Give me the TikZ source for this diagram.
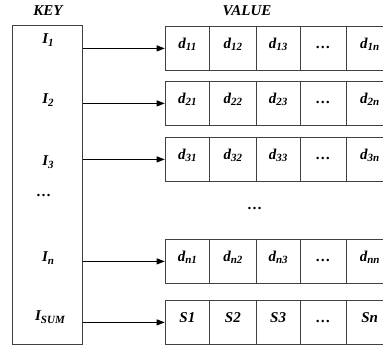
\documentclass[tikz,border=0pt]{standalone}
\usepackage{fontspec}
\setmainfont{Liberation Serif}
\usetikzlibrary{arrows.meta}
\newcommand{\sbx}[1]{\raisebox{-0.35ex}{\fontsize{11}{11}\selectfont #1}}
\newcommand{\kvrow}[7]{%
  \node[cell=44.6pt] (#1a) at (164.7,#2) {#3};
  \node[cell=46.4pt] (#1b) at (209.3,#2) {#4};
  \node[cell=44pt]   (#1c) at (255.7,#2) {#5};
  \node[cell=46.6pt] (#1d) at (299.7,#2) {#6};
  \node[cell=46pt]   (#1e) at (346.3,#2) {#7};
  \draw[arr] (key.east |- #1a.west) -- (#1a.west);
}
\begin{document}
\begin{tikzpicture}[x=1pt,y=-1pt,
  txt/.style={font=\fontsize{15}{17}\selectfont\bfseries\itshape, inner sep=0pt},
  cell/.style={draw=black!75, line width=0.8pt, txt, minimum width=#1,
    text height=22pt, text depth=22pt, anchor=north west, inner sep=0pt},
  arr/.style={draw=black, line width=0.8pt, -{Triangle[length=8pt,width=6pt]}}]
\useasboundingbox (0,0) rectangle (383,352);
\clip (0,0) rectangle (383,352);
\node[txt] (keyt) at (48,11) {KEY};
\node[txt] (valt) at (247,11) {VALUE};
\node[draw=black!75, line width=0.8pt, minimum width=70pt, minimum height=319pt,
  anchor=north west, inner sep=0pt] (key) at (12,25) {};
\node[txt] (k1) at (48,40) {I\sbx{1}};
\node[txt] (k2) at (48,100) {I\sbx{2}};
\node[txt] (k3) at (48,162) {I\sbx{3}};
\node[txt] (kd) at (44,195) {…};
\node[txt] (kn) at (48,258) {I\sbx{n}};
\node[txt] (ks) at (50,317) {I\sbx{SUM}};
\kvrow{r1}{26}{d\sbx{11}}{d\sbx{12}}{d\sbx{13}}{…}{d\sbx{1n}}
\kvrow{r2}{81}{d\sbx{21}}{d\sbx{22}}{d\sbx{23}}{…}{d\sbx{2n}}
\kvrow{r3}{137}{d\sbx{31}}{d\sbx{32}}{d\sbx{33}}{…}{d\sbx{3n}}
\kvrow{rn}{239}{d\sbx{n1}}{d\sbx{n2}}{d\sbx{n3}}{…}{d\sbx{nn}}
\kvrow{rs}{300}{S1}{S2}{S3}{…}{Sn}
\node[txt] (vd) at (255,208) {…};
\end{tikzpicture}
\end{document}
